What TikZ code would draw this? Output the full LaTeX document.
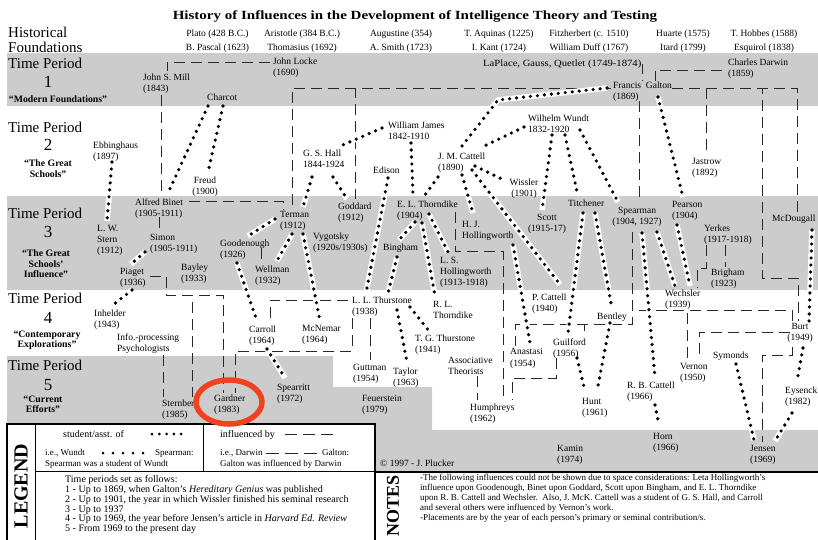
\documentclass[tikz,border=0pt]{standalone}
\usepackage{fontspec}
\setmainfont{Liberation Serif}
\newfontfamily\titlefont[FakeStretch=1.2]{Liberation Serif}
\newfontfamily\widefont[FakeStretch=1.12]{Liberation Serif}
\usetikzlibrary{calc}
\pgfdeclarelayer{back}
\pgfsetlayers{back,main}
\definecolor{bandgray}{RGB}{204,204,204}
\definecolor{ringred}{RGB}{240,66,30}
\definecolor{linegray}{RGB}{40,40,40}

\begin{document}
\begin{tikzpicture}[x=1pt,y=-1pt,
  person/.style={anchor=north west,inner sep=0pt,align=left,font=\fontsize{9.5}{11}\selectfont},
  cperson/.style={person,anchor=north,align=center},
  header/.style={anchor=north,inner sep=0pt,align=center,font=\fontsize{9.5}{14.5}\selectfont},
  periodlabel/.style={anchor=base west,inner sep=0pt,font=\fontsize{15}{15}\selectfont},
  periodnum/.style={anchor=base,inner sep=0pt,font=\fontsize{17}{17}\selectfont},
  periodname/.style={anchor=north,inner sep=0pt,align=center,font=\bfseries\fontsize{9.8}{10.5}\selectfont},
  infl/.style={draw=linegray,line width=0.9pt,dash pattern=on 11pt off 6pt},
  stud/.style={preaction={draw=white,solid,line width=5.5pt,line cap=butt},draw=black,line width=3.6pt,line cap=round,dash pattern=on 0pt off 7pt},
  legdots/.style={draw=black,line width=3pt,line cap=round,dash pattern=on 0pt off #1},
  legtext/.style={anchor=north west,inner sep=0pt,align=left,font=\fontsize{9}{10}\selectfont},
]
\useasboundingbox (0,0) rectangle (818,539);

% ---------- title and historical foundations ----------
\node[anchor=base,inner sep=0pt,font=\titlefont\bfseries\fontsize{12.5}{14}\selectfont] (title) at (415,19)
  {History of Influences in the Development of Intelligence Theory and Testing};
\node[anchor=north west,inner sep=0pt,align=left,font=\fontsize{15}{15}\selectfont] (hist) at (8,26.5) {Historical\\Foundations};
\node[header] (plato) at (217.5,29.5) {Plato (428 B.C.)\\B. Pascal (1623)};
\node[header] (aristotle) at (302,29.5) {Aristotle (384 B.C.)\\Thomasius (1692)};
\node[header] (augustine) at (401,29.5) {Augustine (354)\\A. Smith (1723)};
\node[header] (aquinas) at (499,29.5) {T. Aquinas (1225)\\I. Kant (1724)};
\node[header] (fitz) at (589,29.5) {Fitzherbert (c. 1510)\\William Duff (1767)};
\node[header] (huarte) at (683,29.5) {Huarte (1575)\\Itard (1799)};
\node[header] (hobbes) at (764,29.5) {T. Hobbes (1588)\\Esquirol (1838)};

% ---------- period labels ----------
\node[periodlabel] (tp1) at (8,68) {Time Period};
\node[periodnum] (num1) at (48,87.7) {1};
\node[periodname] (pn1) at (58,95.5) {``Modern Foundations''};
\node[periodlabel] (tp2) at (8,132) {Time Period};
\node[periodnum] (num2) at (48,150.7) {2};
\node[periodname] (pn2) at (48,159.5) {``The Great\\Schools''};
\node[periodlabel] (tp3) at (8,218) {Time Period};
\node[periodnum] (num3) at (48,237.7) {3};
\node[periodname] (pn3) at (46,249.5) {``The Great\\Schools'\\Influence''};
\node[periodlabel] (tp4) at (8,303) {Time Period};
\node[periodnum] (num4) at (48,323.7) {4};
\node[periodname] (pn4) at (47,330.5) {``Contemporary\\Explorations''};
\node[periodlabel] (tp5) at (8,370) {Time Period};
\node[periodnum] (num5) at (48,390.7) {5};
\node[periodname] (pn5) at (43,395.5) {``Current\\Efforts''};

% ---------- people ----------
\node[person] (locke) at (273,57.5) {John Locke\\(1690)};
\node[person] (mill) at (143,73.5) {John S. Mill\\(1843)};
\node[person] (charcot) at (207,93.5) {Charcot};
\node[person,font=\widefont\fontsize{9.5}{11}\selectfont] (laplace) at (483,59.5) {LaPlace, Gauss, Quetlet (1749-1874)};
\node[person] (galton) at (613,81.5) {Francis\ \ Galton\\(1869)};
\node[person] (darwin) at (728,58.5) {Charles Darwin\\(1859)};
\node[person] (ebbinghaus) at (93,141.5) {Ebbinghaus\\(1897)};
\node[cperson] (freud) at (205,176.5) {Freud\\(1900)};
\node[person] (james) at (388,121.5) {William James\\1842-1910};
\node[person] (hall) at (303,149.5) {G. S. Hall\\1844-1924};
\node[person] (edison) at (373,166.5) {Edison};
\node[person] (wundt) at (528,114.5) {Wilhelm Wundt\\1832-1920};
\node[person] (cattell) at (438,152.5) {J. M. Cattell\\(1890)};
\node[cperson] (wissler) at (524,178.5) {Wissler\\(1901)};
\node[person] (jastrow) at (692,158.5) {Jastrow\\(1892)};
\node[person] (binet) at (135,198.5) {Alfred Binet\\(1905-1911)};
\node[person] (stern) at (97,225.5) {L. W.\\Stern\\(1912)};
\node[person] (simon) at (150,234.5) {Simon\\(1905-1911)};
\node[person] (piaget) at (120,268.5) {Piaget\\(1936)};
\node[person] (bayley) at (181,263.5) {Bayley\\(1933)};
\node[person] (terman) at (280,211.5) {Terman\\(1912)};
\node[person] (goddard) at (338,202.5) {Goddard\\(1912)};
\node[person] (goodenough) at (220,239.5) {Goodenough\\(1926)};
\node[person] (wellman) at (255,265.5) {Wellman\\(1932)};
\node[person] (vygotsky) at (313,232.5) {Vygotsky\\(1920s/1930s)};
\node[person] (thorndike) at (397,200.5) {E. L. Thorndike\\(1904)};
\node[person] (hjholl) at (462,221.5) {H. J.\\Hollingworth};
\node[person] (bingham) at (383,243.5) {Bingham};
\node[person] (lsholl) at (440,257.5) {L. S.\\Hollingworth\\(1913-1918)};
\node[cperson] (scott) at (547,214.5) {Scott\\(1915-17)};
\node[person] (titchener) at (568,199.5) {Titchener};
\node[cperson] (spearman) at (637,207) {Spearman\\(1904, 1927)};
\node[person] (pearson) at (672,201.5) {Pearson\\(1904)};
\node[person] (yerkes) at (704,224.5) {Yerkes\\(1917-1918)};
\node[person] (brigham) at (711,268.5) {Brigham\\(1923)};
\node[person] (mcdougall) at (772,214.5) {McDougall};
\node[person] (inhelder) at (94,309.5) {Inhelder\\(1943)};
\node[person] (infoproc) at (117,333.5) {Info.-processing\\Psychologists};
\node[person] (carroll) at (249,325.5) {Carroll\\(1964)};
\node[person] (mcnemar) at (302,325.5) {McNemar\\(1964)};
\node[person] (llthurstone) at (352,296.5) {L. L. Thurstone\\(1938)};
\node[person] (rlthorndike) at (433,301.5) {R. L.\\Thorndike};
\node[person] (tgthurstone) at (415,334.5) {T. G. Thurstone\\(1941)};
\node[person] (pcattell) at (532,293.5) {P. Cattell\\(1940)};
\node[person] (bentley) at (597,312.5) {Bentley};
\node[person] (wechsler) at (665,290) {Wechsler\\(1939)};
\node[person] (guilford) at (553,338.5) {Guilford\\(1956)};
\node[person] (anastasi) at (510,348.5) {Anastasi\\(1954)};
\node[person] (assoc) at (448,356.5) {Associative\\Theorists};
\node[person] (guttman) at (353,363.5) {Guttman\\(1954)};
\node[person] (taylor) at (393,367.5) {Taylor\\(1963)};
\node[person] (hunt) at (582,398.5) {Hunt\\(1961)};
\node[person] (rbcattell) at (627,381.5) {R. B. Cattell\\(1966)};
\node[person] (vernon) at (680,363.5) {Vernon\\(1950)};
\node[cperson] (burt) at (800,323.5) {Burt\\(1949)};
\node[person] (symonds) at (713,351.5) {Symonds};
\node[person] (eysenck) at (785,386.5) {Eysenck\\(1982)};
\node[person] (humphreys) at (470,403.5) {Humphreys\\(1962)};
\node[person] (sternberg) at (162,399.5) {Sternberg\\(1985)};
\node[person] (gardner) at (214,394.5) {Gardner\\(1983)};
\node[person] (spearritt) at (277,383.5) {Spearritt\\(1972)};
\node[person] (feuerstein) at (362,394.5) {Feuerstein\\(1979)};
\node[person] (kamin) at (557,444.5) {Kamin\\(1974)};
\node[person] (horn) at (653,433.5) {Horn\\(1966)};
\node[person] (jensen) at (750,445.5) {Jensen\\(1969)};
\node[person] (copyright) at (380,459.5) {© 1997 - J. Plucker};

\begin{pgfonlayer}{back}
% ---------- period bands ----------
\fill[bandgray] (7,53) rectangle (818,106);
\fill[bandgray] (7,196) rectangle (818,290);
\fill[bandgray] (7,356) -- (333,356) -- (333,387) -- (432,387) -- (432,430)
  -- (818,430) -- (818,472) -- (7,472) -- cycle;

% ---------- influenced by ----------
\draw[infl] ($(locke.north west)+(-3,4.5)$) -| ($(mill.north west)+(24,-2.5)$);
\draw[infl] ($(mill.north west)+(18,21.5)$) -- ($(binet.north west)+(26,-2.5)$);
\draw[infl] ($(galton.north west)+(-2,6.5)$) -| ($(terman.north west)+(12,-3.5)$);
\draw[infl] ($(galton.north west)+(-2,6.5)$) -| ($(goddard.north west)+(17,-3.5)$);
\draw[infl] ($(galton.north west)+(59,6.5)$) -| ($(jastrow.north west)+(14,-2.5)$);
\draw[infl] ($(galton.north west)+(59,6.5)$) -| ($(mcdougall.north west)+(25,-2.5)$);
\draw[infl] ($(galton.north west)+(59,6.5)$) -| ($(burt.north)+(-38,-45.5)$) -| ($(burt.north)+(-2,-2.5)$);
\draw[infl] ($(galton.north west)+(26,19.5)$) -- ($(spearman.north)+(2,-4)$);
\draw[infl] ($(darwin.north west)+(-6,11.5)$) -| ($(galton.north west)+(42,-0.5)$);
\draw[infl] ($(laplace.east)+(2,0)$) -| ($(galton.north west)+(29,-0.5)$);
\draw[infl] ($(binet.north west)+(54,2.5)$) -| ($(terman.north west)+(3,-1.5)$);
\draw[infl] ($(binet.north west)+(24,18.5)$) -- ($(simon.north west)+(9,-4.5)$);
\draw[infl] ($(goodenough.north west)+(41,8.5)$) -- ($(wellman.north west)+(6,-3.5)$);
\draw[infl] ($(piaget.north west)+(30,7.5)$) -| ($(piaget.north west)+(46,26.5)$) -| ($(sternberg.north west)+(30,-2.5)$);
\draw[infl] ($(piaget.north west)+(30,7.5)$) -| ($(piaget.north west)+(46,26.5)$) -| ($(gardner.north west)+(9,-1.5)$);
\draw[infl] ($(infoproc.north west)+(46,21.5)$) -- ($(sternberg.north west)+(1,-2.5)$);
\draw[infl] ($(llthurstone.north west)+(-4,3.5)$) -| ($(carroll.north west)+(21,-3.5)$);
\draw[infl] ($(llthurstone.north west)+(0,21.5)$) |- ($(gardner.north west)+(21,-43.5)$) -- ($(gardner.north west)+(21,-1.5)$);
\draw[infl] ($(llthurstone.north west)+(18,21.5)$) -- ($(guttman.north west)+(17,-3.5)$);
\draw[infl] ($(thorndike.north west)+(58,11.5)$) |- ($(humphreys.north west)+(33,-152.5)$) -- ($(humphreys.north west)+(33,-3.5)$);
\draw[infl] ($(assoc.north west)+(29,19.5)$) -- ($(humphreys.north west)+(7,-3.5)$);
\draw[infl] ($(guilford.north west)+(3,19.5)$) |- ($(humphreys.north west)+(42,-25.5)$) -- ($(humphreys.north west)+(42,-3.5)$);
\draw[infl] ($(spearman.north)+(-5,25)$) |- ($(anastasi.north west)+(5,-24.5)$) -- ($(anastasi.north west)+(5,-2.5)$);
\draw[infl] ($(spearman.north)+(-5,25)$) |- ($(guilford.north west)+(31,-14.5)$) -- ($(guilford.north west)+(31,-2.5)$);
\draw[infl] ($(spearman.north)+(-5,25)$) |- ($(burt.north)+(-8,-13.5)$) -- ($(burt.north)+(-8,-2.5)$);
\draw[infl] ($(spearman.north)+(-5,25)$) |- ($(vernon.north west)+(7,-53.5)$) -- ($(vernon.north west)+(7,-3.5)$);
\draw[infl] ($(burt.north)+(-10,8.5)$) -| ($(vernon.north west)+(19,-3.5)$);
\draw[infl] ($(burt.north)+(-8,23.5)$) |- ($(jensen.north west)+(12,-90.5)$) -- ($(jensen.north west)+(12,-3.5)$);
\draw[infl] ($(yerkes.north west)+(21,20.5)$) -- ($(brigham.north west)+(14,-1.5)$);
\draw[infl] ($(yerkes.north west)+(2,20.5)$) |- ($(wechsler.north west)+(32,-22)$) -- ($(wechsler.north west)+(32,-2)$);

% ---------- student / assistant of ----------
\draw[stud] ($(charcot.north west)+(1,12.5)$) -- ($(binet.north west)+(33,-5.5)$);
\draw[stud] ($(charcot.north west)+(16,12.5)$) -- ($(freud.north)+(3,-4.5)$);
\draw[stud] ($(ebbinghaus.north west)+(19,20.5)$) -- ($(stern.north west)+(10,-4.5)$);
\draw[stud] ($(simon.north west)+(-5,17.5)$) -- ($(piaget.north west)+(11,-4.5)$);
\draw[stud] ($(piaget.north west)+(12,21.5)$) -- ($(inhelder.north west)+(19,-4.5)$);
\draw[stud] ($(galton.north west)+(-6,6.5)$) -- ($(cattell.north west)+(60,-52.5)$) -- ($(cattell.north west)+(24,-6.5)$);
\draw[stud] ($(wundt.north west)+(-4,12.5)$) -- ($(cattell.north west)+(42,-4.5)$);
\draw[stud] ($(james.north west)+(-6,6.5)$) -- ($(hall.north west)+(35,-2.5)$);
\draw[stud] ($(james.north west)+(23,21.5)$) -- ($(thorndike.north west)+(16,-5.5)$);
\draw[stud] ($(cattell.north west)+(0,24.5)$) -- ($(thorndike.north west)+(28,-5.5)$);
\draw[stud] ($(hall.north west)+(9,27.5)$) -- ($(terman.north west)+(23,-4.5)$);
\draw[stud] ($(hall.north west)+(30,27.5)$) -- ($(goddard.north west)+(9,-3.5)$);
\draw[stud] ($(edison.north west)+(15,11.5)$) -- ($(llthurstone.north west)+(14,-3.5)$);
\draw[stud] ($(thorndike.north west)+(18,21.5)$) -- ($(bingham.north west)+(16,-3.5)$);
\draw[stud] ($(bingham.north west)+(14,13.5)$) -- ($(llthurstone.north west)+(36,-3.5)$);
\draw[stud] ($(thorndike.north west)+(25,22.5)$) -- ($(rlthorndike.north west)+(2,-5.5)$);
\draw[stud] ($(thorndike.north west)+(32,13.5)$) -- ($(lsholl.north west)+(8,-5.5)$);
\draw[stud] ($(cattell.north west)+(37,13.5)$) -- ($(wissler.north)+(-18,2.5)$);
\draw[stud] ($(cattell.north west)+(34,17.5)$) -- ($(pcattell.north west)+(28,-9)$);
\draw[stud] ($(cattell.north west)+(24,22.5)$) -- ($(hjholl.north west)+(11,-8.5)$);
\draw[stud] ($(hjholl.north west)+(51,23.5)$) -- ($(anastasi.north west)+(20,-5.5)$);
\draw[stud] ($(wundt.north west)+(24,20.5)$) -- ($(scott.north)+(-5,-4.5)$);
\draw[stud] ($(wundt.north west)+(37,20.5)$) -- ($(titchener.north west)+(9,-7.5)$);
\draw[stud] ($(wundt.north west)+(52,15.5)$) -- ($(spearman.north)+(-19,-5)$);
\draw[stud] ($(titchener.north west)+(15,13.5)$) -- ($(guilford.north west)+(15,-5.5)$);
\draw[stud] ($(titchener.north west)+(27,13.5)$) -- ($(bentley.north west)+(15,-3.5)$);
\draw[stud] ($(guilford.north west)+(24,19.5)$) -- ($(hunt.north west)+(3,-7.5)$);
\draw[stud] ($(bentley.north west)+(13,10.5)$) -- ($(hunt.north west)+(15,-7.5)$);
\draw[stud] ($(spearman.north)+(5,26)$) -- ($(rbcattell.north west)+(28,-4.5)$);
\draw[stud] ($(rbcattell.north west)+(28,23.5)$) -- ($(horn.north west)+(6,-8.5)$);
\draw[stud] ($(spearman.north)+(20,25)$) -- ($(wechsler.north west)+(10,-4)$);
\draw[stud] ($(pearson.north west)+(5,23.5)$) -- ($(wechsler.north west)+(25,-4)$);
\draw[stud] ($(galton.north west)+(45,15.5)$) -- ($(pearson.north west)+(11,-4.5)$);
\draw[stud] ($(mcdougall.north west)+(40,15.5)$) -- ($(burt.north)+(9,-2.5)$);
\draw[stud] ($(burt.north)+(3,24.5)$) -- ($(eysenck.north west)+(12,-5.5)$);
\draw[stud] ($(eysenck.north west)+(7,26.5)$) -- ($(jensen.north west)+(25,-4.5)$);
\draw[stud] ($(symonds.north west)+(23,12.5)$) -- ($(jensen.north west)+(4,-5.5)$);
\draw[stud] ($(terman.north west)+(-5,7.5)$) -- ($(goodenough.north west)+(28,-3.5)$);
\draw[stud] ($(terman.north west)+(12,22.5)$) -- ($(wellman.north west)+(22,-4.5)$);
\draw[stud] ($(terman.north west)+(23,22.5)$) -- ($(mcnemar.north west)+(18,-4.5)$);
\draw[stud] ($(goodenough.north west)+(17,23.5)$) -- ($(carroll.north west)+(8,-4.5)$);
\draw[stud] ($(carroll.north west)+(18,23.5)$) -- ($(spearritt.north west)+(8,-5.5)$);
\draw[stud] ($(llthurstone.north west)+(58,10.5)$) -- ($(tgthurstone.north west)+(14,-3.5)$);
\draw[stud] ($(llthurstone.north west)+(45,13.5)$) -- ($(taylor.north west)+(14,-5.5)$);
\end{pgfonlayer}

% ---------- legend ----------
\draw[line width=1.6pt,fill=white] (7,424) rectangle (375,548);
\draw[line width=0.8pt] (35,424) -- (35,548) (35,471) -- (375,471) (203,424) -- (203,471);
\node[rotate=90,inner sep=0pt,font=\bfseries\fontsize{20}{20}\selectfont] (legendtitle) at (21,486) {LEGEND};
\node[legtext,font=\fontsize{10}{12}\selectfont] (lgstud) at (63,430) {student/asst. of};
\draw[legdots=7.3pt] ($(lgstud.north west)+(89,4)$) -- ++(29.3,0);
\node[legtext,font=\fontsize{10}{12}\selectfont] (lginfl) at (220,430) {influenced by};
\draw[infl,dash pattern=on 12pt off 6pt] ($(lginfl.north west)+(65,4)$) -- ++(48,0);
\node[legtext] (lgwundt) at (45,449.5) {i.e., Wundt};
\draw[legdots=10pt] ($(lgwundt.north west)+(58,3.5)$) -- ++(40.1,0);
\node[legtext] (lgspear) at (155,449.5) {Spearman:};
\node[legtext] (lgspear2) at (45,459.5) {Spearman was a student of Wundt};
\node[legtext] (lgdarwin) at (220,449.5) {i.e., Darwin};
\draw[infl,dash pattern=on 13pt off 6pt] ($(lgdarwin.north west)+(46,3.5)$) -- ++(51,0);
\node[legtext] (lggalton) at (322,449.5) {Galton:};
\node[legtext] (lggalton2) at (220,459.5) {Galton was influenced by Darwin};
\node[legtext,font=\fontsize{10}{9.8}\selectfont] (lgperiods) at (65,475.5)
  {Time periods set as follows:\\
   1 - Up to 1869, when Galton's \textit{Hereditary Genius} was published\\
   2 - Up to 1901, the year in which Wissler finished his seminal research\\
   3 - Up to 1937\\
   4 - Up to 1969, the year before Jensen's article in \textit{Harvard Ed. Review}\\
   5 - From 1969 to the present day};

% ---------- notes ----------
\draw[line width=1.6pt] (375,472) -- (818,472);
\node[rotate=90,inner sep=0pt,font=\bfseries\fontsize{18}{18}\selectfont] (notestitle) at (393,506) {NOTES};
\node[anchor=north west,inner sep=0pt,align=left,font=\fontsize{9}{10}\selectfont] (notes) at (420,473.5)
  {-The following influences could not be shown due to space considerations: Leta Hollingworth's\\
   influence upon Goodenough, Binet upon Goddard, Scott upon Bingham, and E. L. Thorndike\\
   upon R. B. Cattell and Wechsler.\ \ Also, J. McK. Cattell was a student of G. S. Hall, and Carroll\\
   and several others were influenced by Vernon's work.\\
   -Placements are by the year of each person's primary or seminal contribution/s.};

% ---------- highlight ring ----------
\draw[ringred,line width=5.5pt] (229,402) ellipse [x radius=33pt,y radius=22pt];
\end{tikzpicture}
\end{document}
